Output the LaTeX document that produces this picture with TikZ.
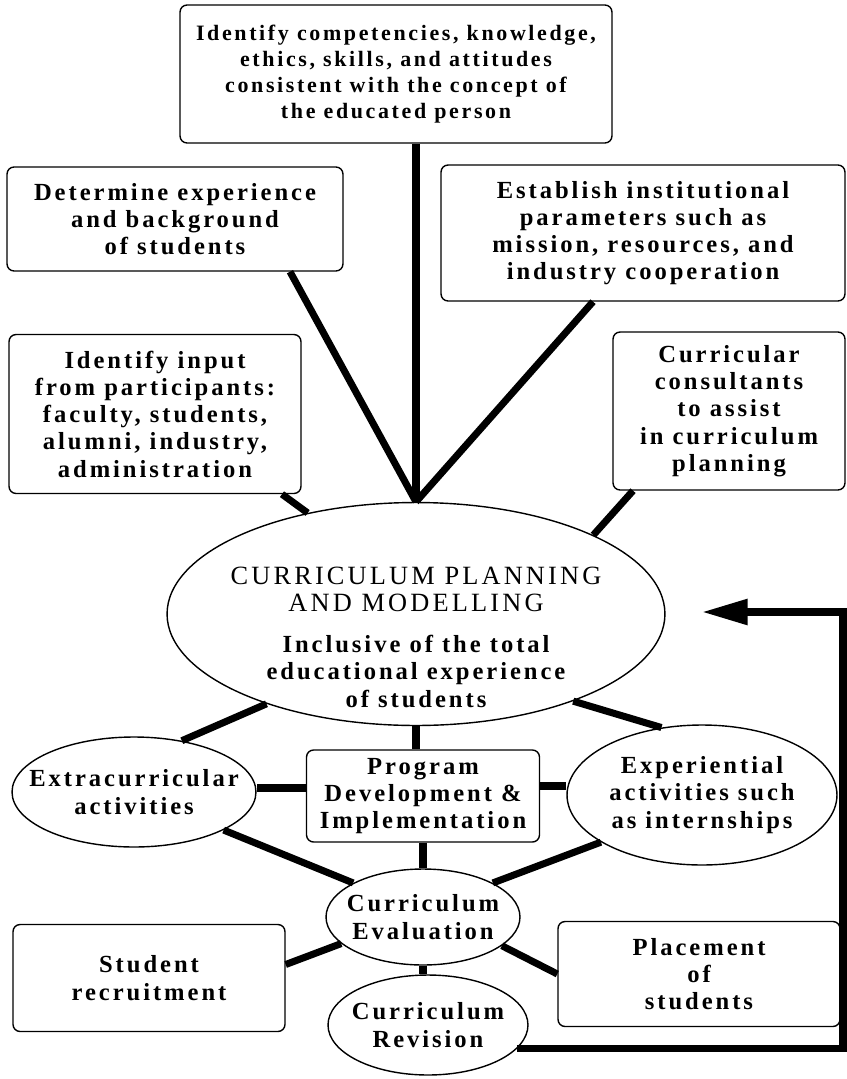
\documentclass[tikz,border=0pt]{standalone}
\usepackage{fontspec}
\usepackage{tikz}
\usetikzlibrary{shapes.geometric,arrows.meta}
\newfontfamily\chartfont{Liberation Serif}[LetterSpace=12]
\tikzset{
    plan-box/.style = {draw, line width=0.8pt, rectangle, rounded corners=4pt, align=center, inner sep=0pt, font=\chartfont\bfseries\fontsize{14}{15.5}\selectfont},
    plan-oval/.style = {draw, line width=0.8pt, ellipse, inner sep=0pt},
    oval-text/.style = {align=center, inner sep=0pt, font=\chartfont\bfseries\fontsize{14}{15.5}\selectfont},
    plan-link/.style = {line width=4pt},
}

\begin{document}
\begin{tikzpicture}[x=0.02cm, y=-0.02cm]
\useasboundingbox (0,0) rectangle (847,1079);

% inputs to the planning stage
\node [plan-box, minimum width=8.64cm, minimum height=2.76cm, font=\chartfont\bfseries\fontsize{12.5}{14.7}\selectfont] (competencies) at (396,74)
    {Identify competencies, knowledge,\\ ethics, skills, and attitudes\\ consistent with the concept of\\ the educated person};
\node [plan-box, minimum width=6.72cm, minimum height=2.08cm] (background) at (175,219)
    {Determine experience\\ and background\\ of students};
\node [plan-box, minimum width=8.08cm, minimum height=2.72cm] (parameters) at (643,233)
    {Establish institutional\\ parameters such as\\ mission, resources, and\\ industry cooperation};
\node [plan-box, minimum width=5.84cm, minimum height=3.18cm] (input) at (155,414)
    {Identify input\\ from participants:\\ faculty, students,\\ alumni, industry,\\ administration};
\node [plan-box, minimum width=4.64cm, minimum height=3.16cm] (consultants) at (729,411)
    {Curricular\\ consultants\\ to assist\\ in curriculum\\ planning};

% central ellipse
\node [plan-oval, minimum width=9.96cm, minimum height=4.46cm,
       label={[oval-text, yshift=-0.46cm]center:{\mdseries\fontsize{15}{17}\selectfont CURRICULUM PLANNING\\
              \mdseries\fontsize{15}{17}\selectfont AND MODELLING\\[8pt]
              Inclusive of the total\\ educational experience\\ of students}}] (planning) at (416,614) {};

% program level
\node [plan-oval, minimum width=4.88cm, minimum height=2.2cm,
       label={[oval-text]center:{Extracurricular\\ activities}}] (extracurricular) at (134,792) {};
\node [plan-box, minimum width=4.66cm, minimum height=1.84cm] (program) at (423,796)
    {Program\\ Development \&\\ Implementation};
\node [plan-oval, minimum width=5.4cm, minimum height=2.8cm,
       label={[oval-text]center:{Experiential\\ activities such\\ as internships}}] (experiential) at (702,795) {};

% evaluation level
\node [plan-oval, minimum width=3.88cm, minimum height=1.92cm,
       label={[oval-text]center:{Curriculum\\ Evaluation}}] (evaluation) at (423,917) {};
\node [plan-box, minimum width=5.44cm, minimum height=2.14cm] (recruitment) at (149,978)
    {Student\\ recruitment};
\node [plan-box, minimum width=5.64cm, minimum height=2.1cm] (placement) at (699,974)
    {Placement\\ of\\ students};
\node [plan-oval, minimum width=4cm, minimum height=2cm,
       label={[oval-text]center:{Curriculum\\ Revision}}] (revision) at (428,1025) {};

% connectors
\draw [plan-link] (competencies.south -| planning.north) -- (planning.north);
\draw [plan-link] ([xshift=2.3cm]background.south) -- (planning.north);
\draw [plan-link] ([xshift=-1cm]parameters.south) -- (planning.north);
\draw [plan-link] ([xshift=2.54cm]input.south) -- (planning.137);
\draw [plan-link] ([xshift=-1.92cm]consultants.south) -- (planning.24);

\draw [plan-link] (planning.211) -- (extracurricular.47);
\draw [plan-link] (planning.south) -- (planning.south |- program.north);
\draw [plan-link] (planning.331) -- (experiential.121);
\draw [plan-link] ([yshift=0.16cm]program.west) -- ([yshift=0.16cm]program.west -| extracurricular.east);
\draw [plan-link] ([yshift=0.2cm]program.east) -- ([yshift=0.2cm]program.east -| experiential.west);

\draw [plan-link] (extracurricular.337) -- (evaluation.154);
\draw [plan-link] (program.south -| evaluation.north) -- (evaluation.north);
\draw [plan-link] (experiential.205) -- (evaluation.26);
\draw [plan-link] ([yshift=0.27cm]recruitment.east) -- (evaluation.198);
\draw [plan-link] (evaluation.340) -- (placement.west);
\draw [plan-link] (evaluation.south) -- (evaluation.south |- revision.north);

% feedback loop
\coordinate (loop-corner) at (843,612);
\coordinate (loop-end) at (702,612);
\draw [plan-link, -{Triangle[length=26pt, width=14pt]}] (revision.-15) -| (loop-corner) -- (loop-end);
\end{tikzpicture}
\end{document}
